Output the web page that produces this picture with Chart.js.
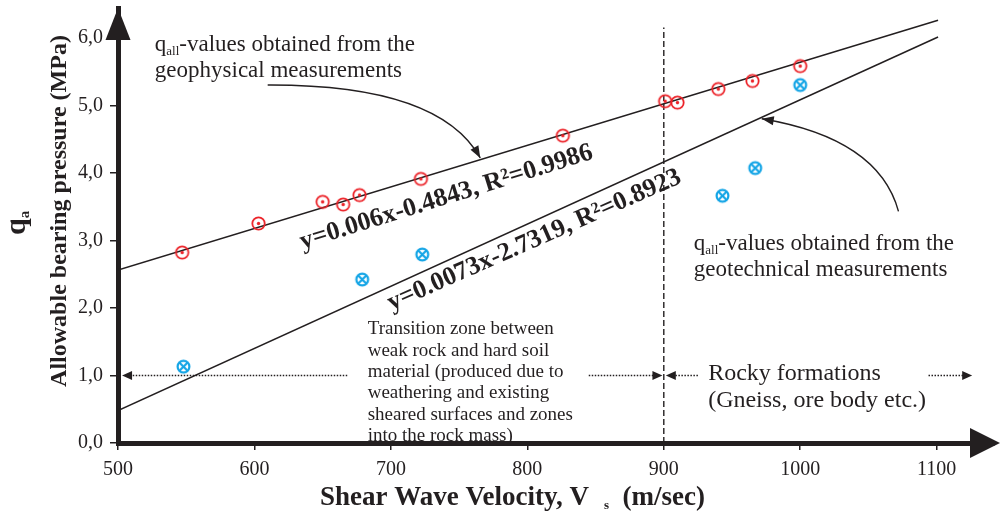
<!DOCTYPE html>
<html>
<head>
<meta charset="utf-8">
<title>Allowable bearing pressure vs shear wave velocity</title>
<script src="https://cdn.jsdelivr.net/npm/chart.js@4.4.1/dist/chart.umd.min.js"></script>
<style>
  html, body { margin: 0; padding: 0; background: #fff; overflow: hidden; }
  #wrap { width: 1002px; height: 517px; }
</style>
</head>
<body>
<div id="wrap"><canvas id="qChart" width="1002" height="517"></canvas></div>
<script>
// ---- Data ----
const geoPhysVs = [547, 603, 650, 665, 677, 722, 826, 901, 910, 940, 965, 1000];
const geoPhysQ  = [2.82, 3.25, 3.57, 3.53, 3.67, 3.91, 4.55, 5.06, 5.04, 5.24, 5.36, 5.58];

const geoTechVs = [548, 679, 723, 943, 967, 1000];
const geoTechQ  = [1.13, 2.42, 2.79, 3.66, 4.07, 5.30];

// fitted lines as drawn in the figure (end points)
const fitVs       = [500, 1101];
const fitGeoPhysQ = [2.56, 6.26];
const fitGeoTechQ = [0.48, 6.01];

// boundary between transition zone and rocky formations
const boundaryVs = [900, 900];
const boundaryQ  = [0, 6.15];

const xTickValues = [500, 600, 700, 800, 900, 1000, 1100];
const yTickValues = [0, 1, 2, 3, 4, 5, 6];

const eqGeoPhys = 'y=0.006x-0.4843, R\u00B2=0.9986';
const eqGeoTech = 'y=0.0073x-2.7319, R\u00B2=0.8923';
const transitionLines = [
  'Transition zone between',
  'weak rock and hard soil',
  'material (produced due to',
  'weathering and existing',
  'sheared surfaces and zones',
  'into the rock mass)'
];
const rockyLines = ['Rocky formations', '(Gneiss, ore body etc.)'];

// ---- Styling helpers ----
const INK = '#231f20';
const SERIF = "'Liberation Serif', 'Times New Roman', serif";
const RED = '#ec2228';
const BLUE = '#14a5e6';

const toPts = (xs, ys) => xs.map((x, i) => ({ x, y: ys[i] }));

function makeMarker(color, crossed) {
  const c = document.createElement('canvas');
  c.width = 17; c.height = 17;
  const g = c.getContext('2d');
  g.strokeStyle = color;
  g.fillStyle = color;
  g.lineWidth = crossed ? 2.2 : 1.8;
  g.beginPath();
  g.arc(8.5, 8.5, crossed ? 5.9 : 6.2, 0, Math.PI * 2);
  g.stroke();
  if (crossed) {
    const d = 4;
    g.beginPath();
    g.moveTo(8.5 - d, 8.5 - d); g.lineTo(8.5 + d, 8.5 + d);
    g.moveTo(8.5 + d, 8.5 - d); g.lineTo(8.5 - d, 8.5 + d);
    g.stroke();
  } else {
    g.beginPath();
    g.arc(8.5, 8.5, 1.7, 0, Math.PI * 2);
    g.fill();
  }
  return c;
}

// draw a run of text pieces (for sub/superscripts)
function drawParts(ctx, parts, x, y) {
  let cx = x;
  parts.forEach(p => {
    ctx.font = p.font;
    cx += p.dx || 0;
    ctx.fillText(p.text, cx, y + (p.dy || 0));
    cx += ctx.measureText(p.text).width;
  });
  return cx - x;
}

function arrowHead(ctx, tipX, tipY, dx, dy, len, half) {
  const n = Math.hypot(dx, dy);
  const ux = dx / n, uy = dy / n;
  ctx.beginPath();
  ctx.moveTo(tipX, tipY);
  ctx.lineTo(tipX - ux * len - uy * half, tipY - uy * len + ux * half);
  ctx.lineTo(tipX - ux * len + uy * half, tipY - uy * len - ux * half);
  ctx.closePath();
  ctx.fill();
}

// ---- Overlay: axis arrows, notes, curved pointers, axis titles ----
const overlayPlugin = {
  id: 'overlay',
  afterDraw(chart) {
    const { ctx, chartArea: a, scales: { x, y } } = chart;
    const px = v => x.getPixelForValue(v);
    const py = v => y.getPixelForValue(v);
    ctx.save();
    ctx.fillStyle = INK;
    ctx.strokeStyle = INK;

    // axis arrow heads
    ctx.beginPath();
    ctx.moveTo(a.left, a.top);
    ctx.lineTo(a.left - 12.5, a.top + 32);
    ctx.lineTo(a.left + 12.5, a.top + 32);
    ctx.closePath();
    ctx.fill();
    ctx.beginPath();
    ctx.moveTo(a.right + 6, a.bottom);
    ctx.lineTo(a.right - 24, a.bottom - 15);
    ctx.lineTo(a.right - 24, a.bottom + 15);
    ctx.closePath();
    ctx.fill();

    // dotted zone arrows at q = 1.0
    const zoneArrows = [[668, 503], [845, 899], [925, 901.5], [1094, 1126]];
    ctx.lineWidth = 1.4;
    ctx.setLineDash([1.5, 1.5]);
    zoneArrows.forEach(([from, to]) => {
      const dir = Math.sign(to - from);
      ctx.beginPath();
      ctx.moveTo(px(from), py(1));
      ctx.lineTo(px(to) - dir * 8, py(1));
      ctx.stroke();
    });
    ctx.setLineDash([]);
    zoneArrows.forEach(([from, to]) => {
      arrowHead(ctx, px(to), py(1), to - from, 0, 10, 4.5);
    });

    // curved pointers
    const curves = [
      [[609.7, 5.30], [735.5, 5.31], [765.5, 4.22]],
      [[1072, 3.43], [1057.4, 4.51], [971.8, 4.80]]
    ];
    ctx.lineWidth = 1.4;
    curves.forEach(([s, c, e]) => {
      const sx = px(s[0]), sy = py(s[1]);
      const cx = px(c[0]), cy = py(c[1]);
      const ex = px(e[0]), ey = py(e[1]);
      ctx.beginPath();
      ctx.moveTo(sx, sy);
      ctx.quadraticCurveTo(cx, cy, ex, ey);
      ctx.stroke();
      arrowHead(ctx, ex, ey, ex - cx, ey - cy, 12, 4.5);
    });

    // q_all notes
    const sub = (t) => ({ text: t, font: `13px ${SERIF}`, dy: 4 });
    const reg = (t) => ({ text: t, font: `23px ${SERIF}` });
    ctx.textAlign = 'left';
    ctx.textBaseline = 'alphabetic';
    drawParts(ctx, [reg('q'), sub('all'), reg('-values obtained from the')], px(527), py(5.80));
    drawParts(ctx, [reg('geophysical measurements')], px(527), py(5.80) + 26);
    drawParts(ctx, [reg('q'), sub('all'), reg('-values obtained from the')], px(922), py(2.86));
    drawParts(ctx, [reg('geotechnical measurements')], px(922), py(2.86) + 26);

    // transition zone note
    ctx.font = `19px ${SERIF}`;
    transitionLines.forEach((t, i) => ctx.fillText(t, px(683), py(1.61) + i * 21.4));

    // rocky formations note
    ctx.font = `24px ${SERIF}`;
    rockyLines.forEach((t, i) => ctx.fillText(t, px(932.5), py(0.94) + i * 27.5));

    // equations along the fitted lines
    const eqs = [
      [eqGeoPhys, 635.3, 2.87, -17.3],
      [eqGeoTech, 700.4, 1.96, -23.8]
    ];
    ctx.font = `bold 26px ${SERIF}`;
    eqs.forEach(([text, vx, vy, deg]) => {
      ctx.save();
      ctx.translate(px(vx), py(vy));
      ctx.rotate(deg * Math.PI / 180);
      ctx.fillText(text, 0, 0);
      ctx.restore();
    });

    // x axis title
    const xt = [
      { text: 'Shear Wave Velocity, V', font: `bold 27px ${SERIF}` },
      { text: 's', font: `bold 13px ${SERIF}`, dy: 4, dx: 15 },
      { text: '  (m/sec)', font: `bold 27px ${SERIF}` }
    ];
    drawParts(ctx, xt, 320, 505);

    // y axis title
    ctx.save();
    ctx.translate(66, 211);
    ctx.rotate(-Math.PI / 2);
    ctx.textAlign = 'center';
    ctx.font = `bold 24px ${SERIF}`;
    ctx.fillText('Allowable bearing pressure (MPa)', 0, 0);
    ctx.restore();

    ctx.save();
    ctx.translate(25, 235);
    ctx.rotate(-Math.PI / 2);
    ctx.textAlign = 'left';
    drawParts(ctx, [
      { text: 'q', font: `bold 30px ${SERIF}` },
      { text: 'a', font: `bold 15px ${SERIF}`, dy: 4 }
    ], 0, 0);
    ctx.restore();

    ctx.restore();
  }
};

// ---- Chart ----
const ctx = document.getElementById('qChart');
new Chart(ctx, {
  type: 'scatter',
  data: {
    datasets: [
      {
        label: 'Geophysical q_all',
        data: toPts(geoPhysVs, geoPhysQ),
        pointStyle: makeMarker(RED, false),
        pointRadius: 7
      },
      {
        label: 'Geotechnical q_all',
        data: toPts(geoTechVs, geoTechQ),
        pointStyle: makeMarker(BLUE, true),
        pointRadius: 7
      },
      {
        label: 'Fit geophysical',
        data: toPts(fitVs, fitGeoPhysQ),
        showLine: true,
        borderColor: INK,
        borderWidth: 1.5,
        pointRadius: 0
      },
      {
        label: 'Fit geotechnical',
        data: toPts(fitVs, fitGeoTechQ),
        showLine: true,
        borderColor: INK,
        borderWidth: 1.5,
        pointRadius: 0
      },
      {
        label: 'Boundary',
        data: toPts(boundaryVs, boundaryQ),
        showLine: true,
        borderColor: INK,
        borderWidth: 1.4,
        borderDash: [6, 3],
        pointRadius: 0
      }
    ]
  },
  options: {
    responsive: false,
    devicePixelRatio: 1,
    animation: false,
    layout: { padding: { top: 3, right: 0, left: 0, bottom: 0 } },
    plugins: {
      legend: { display: false },
      tooltip: { enabled: false }
    },
    scales: {
      x: {
        type: 'linear',
        min: 500,
        max: 1142,
        afterBuildTicks: (s) => { s.ticks = xTickValues.map(v => ({ value: v })); },
        afterFit: (s) => { s.height = 74; s.paddingLeft = 0; s.paddingRight = 0; },
        grid: { drawOnChartArea: false, tickLength: 7, tickColor: INK, lineWidth: 1.5 },
        border: { color: INK, width: 5 },
        ticks: {
          color: INK,
          padding: 8,
          maxRotation: 0,
          font: { family: SERIF, size: 20 },
          callback: (v) => String(v)
        }
      },
      y: {
        min: 0,
        max: 6.44,
        afterBuildTicks: (s) => { s.ticks = yTickValues.map(v => ({ value: v })); },
        afterFit: (s) => { s.width = 118; s.paddingTop = 0; s.paddingBottom = 0; },
        grid: { drawOnChartArea: false, tickLength: 8, tickColor: INK, lineWidth: 1.5 },
        border: { color: INK, width: 5 },
        ticks: {
          color: INK,
          padding: 7,
          font: { family: SERIF, size: 20 },
          callback: (v) => v.toFixed(1).replace('.', ',')
        }
      }
    }
  },
  plugins: [overlayPlugin]
});
</script>
</body>
</html>
